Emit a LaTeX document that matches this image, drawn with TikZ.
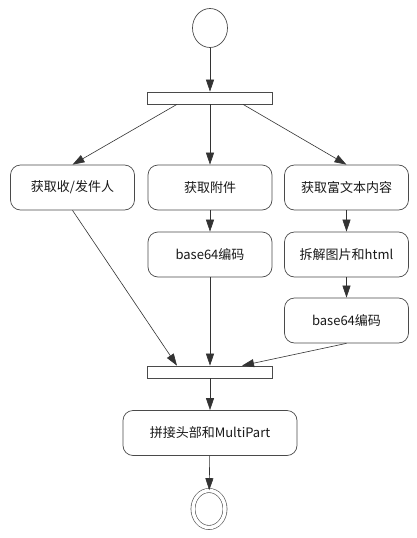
\documentclass[tikz,border=0pt]{standalone}
\usepackage{fontspec}
\setmainfont{Noto Sans CJK SC}
\usetikzlibrary{arrows.meta, positioning, calc, shapes.geometric}
\definecolor{edgegray}{HTML}{333333}
\definecolor{boxgray}{HTML}{4A4A4A}

\tikzset{
  act/.style={draw=boxgray, line width=0.7pt, rounded corners=10pt,
    minimum width=124pt, minimum height=45pt, inner sep=0pt,
    font=\fontsize{13}{15}\selectfont, text=black!90},
  bar/.style={draw=boxgray, line width=0.7pt, fill=white,
    minimum width=125pt, minimum height=12pt, inner sep=0pt},
  flow/.style={draw=edgegray, line width=0.6pt,
    -{Triangle[length=12pt, width=8pt]}}
}

\begin{document}
\begin{tikzpicture}[x=1pt, y=-1pt]

% Background / page size
\fill[white] (0,0) rectangle (416,538);
\useasboundingbox (0,0) rectangle (416,538);

% Start and end states
\node[ellipse, draw=boxgray, line width=0.7pt, minimum width=35pt,
  minimum height=39pt, inner sep=0pt] (start) at (210,28) {};
\node[ellipse, draw=boxgray, line width=0.6pt, double, double distance=3.5pt,
  minimum width=32pt, minimum height=37pt, inner sep=0pt] (stop) at (209,509) {};

% Fork and join bars
\node[bar] (fork) at (210,98) {};
\node[bar] (join) at (210,372) {};

% Activities
\node[act] (sender) at (72.5,187.5) {获取收/发件人};
\node[act] (attach) at (210,187.5) {获取附件};
\node[act] (rich)   at (346.5,187.5) {获取富文本内容};
\node[act] (encA)   at (210,254.5) {base64编码};
\node[act] (split)  at (346.5,254.5) {拆解图片和html};
\node[act] (encB)   at (346.5,320.5) {base64编码};
\node[act, minimum width=174pt] (merge) at (210,433) {拼接头部和MultiPart};

% Connectors
\draw[flow] (start) -- (fork);
\draw[flow] ($(fork.south)+(-33,0)$) -- (sender.north);
\draw[flow] (fork) -- (attach);
\draw[flow] ($(fork.south)+(33,0)$) -- (rich.north);
\draw[flow] (attach) -- (encA);
\draw[flow] (rich) -- (split);
\draw[flow] (split) -- (encB);
\draw[flow] (sender.south) -- ($(join.north)+(-33,0)$);
\draw[flow] (encA) -- (join);
\draw[flow] (encB.south) -- ($(join.north)+(32,0)$);
\draw[flow] (join) -- (merge);
\draw[flow] (merge) -- (stop);

\end{tikzpicture}
\end{document}
